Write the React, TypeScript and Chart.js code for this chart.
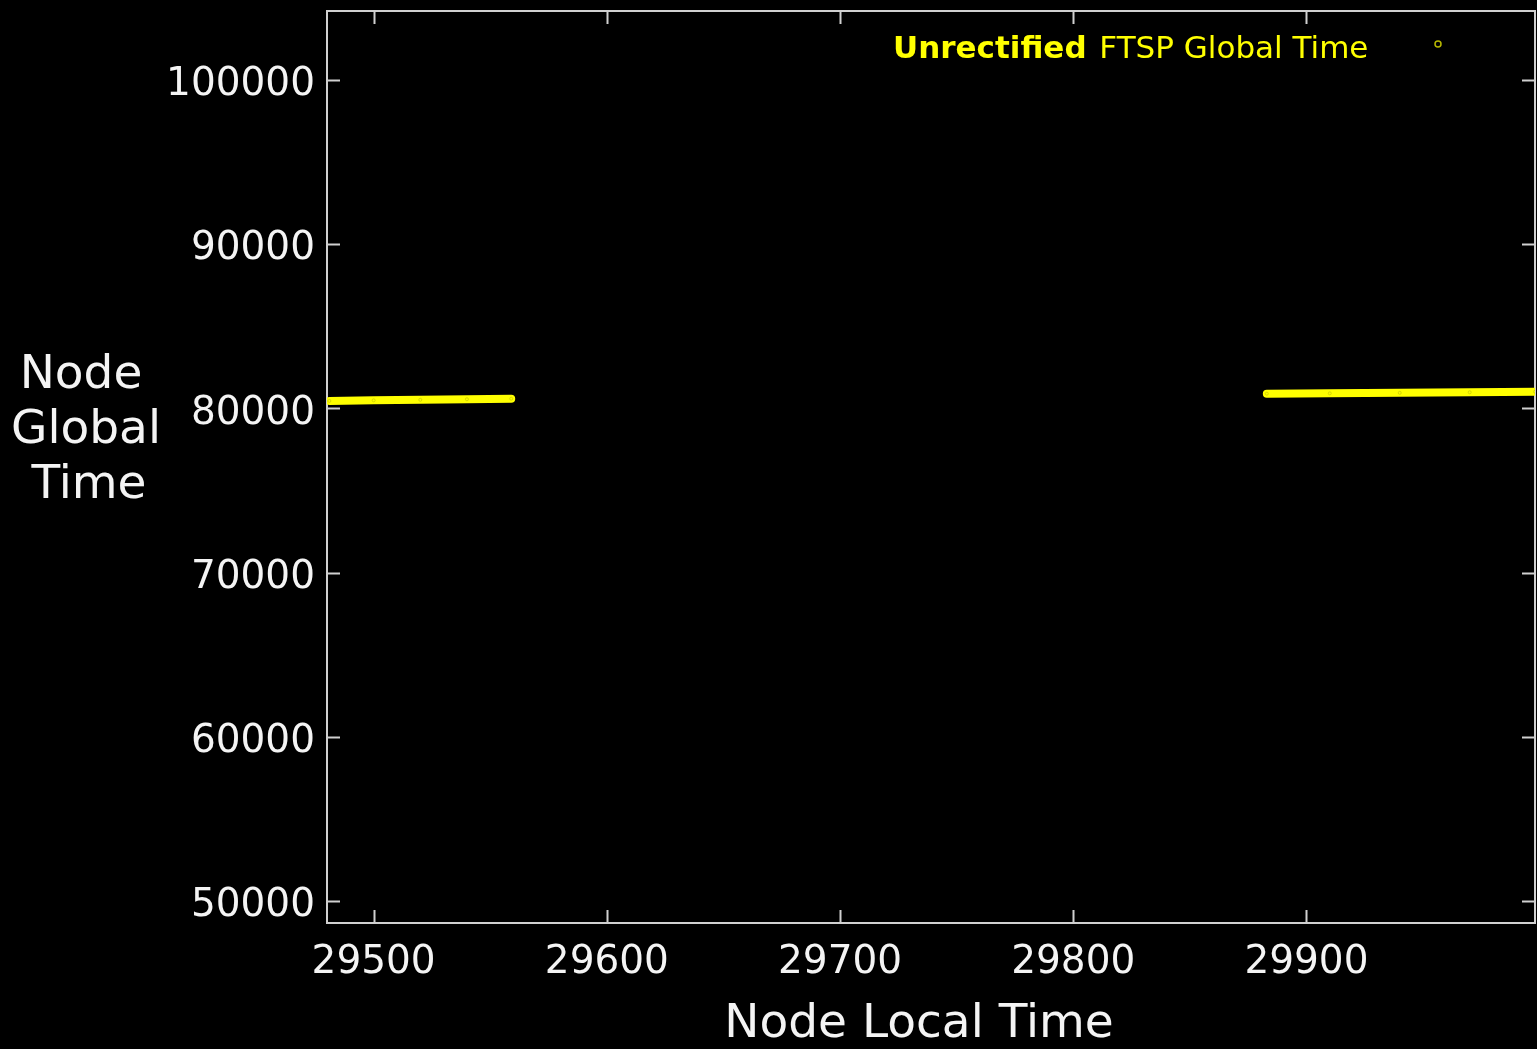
import React, { useEffect, useRef } from 'react';
import { Chart, registerables } from 'chart.js';

Chart.register(...registerables);

const xTickValues = [29500, 29600, 29700, 29800, 29900];
const yTickValues = [50000, 60000, 70000, 80000, 90000, 100000];

const firstRunLocal = [29481, 29500, 29520, 29540, 29559];
const firstRunGlobal = [80455, 80490, 80520, 80555, 80590];
const secondRunLocal = [29883, 29910, 29940, 29970, 29998];
const secondRunGlobal = [80895, 80915, 80945, 80980, 81015];

const xTitle = 'Node Local Time';
const yTitleLines = ['Node', 'Global', 'Time'];
const legendBold = 'Unrectified';
const legendRest = 'FTSP Global Time';

const FONT = "'DejaVu Sans', sans-serif";
const YELLOW = '#ffff00';
const FRAME = '#d0d0d0';

const decorPlugin = {
  id: 'decor',
  beforeDatasetsDraw(chart: any) {
    const { ctx, chartArea: a, scales } = chart;
    ctx.save();
    ctx.strokeStyle = FRAME;
    ctx.lineWidth = 2;
    ctx.strokeRect(a.left, a.top, a.right - a.left, a.bottom - a.top);
    const L = 13;
    ctx.beginPath();
    scales.x.ticks.forEach((t: any) => {
      const px = Math.round(scales.x.getPixelForValue(t.value)) + 0.5;
      ctx.moveTo(px, a.bottom);
      ctx.lineTo(px, a.bottom - L);
      ctx.moveTo(px, a.top);
      ctx.lineTo(px, a.top + L);
    });
    scales.y.ticks.forEach((t: any) => {
      const py = Math.round(scales.y.getPixelForValue(t.value)) + 0.5;
      ctx.moveTo(a.left, py);
      ctx.lineTo(a.left + L, py);
      ctx.moveTo(a.right, py);
      ctx.lineTo(a.right - L, py);
    });
    ctx.stroke();
    ctx.restore();
  },
  afterDraw(chart: any) {
    const { ctx } = chart;
    ctx.save();
    ctx.fillStyle = '#f4f4f4';
    ctx.font = `47px ${FONT}`;
    ctx.textAlign = 'center';
    ctx.textBaseline = 'alphabetic';
    ctx.fillText(xTitle, 919, 1037);
    const centers = [81, 86, 89];
    yTitleLines.forEach((line, i) => {
      ctx.fillText(line, centers[i], 388 + i * 55);
    });
    // legend
    ctx.textAlign = 'left';
    ctx.fillStyle = YELLOW;
    ctx.font = `bold 31px ${FONT}`;
    ctx.fillText(legendBold, 893, 58);
    const w = ctx.measureText(legendBold + ' ').width;
    ctx.font = `31px ${FONT}`;
    ctx.fillText(legendRest, 893 + w + 2, 58);
    ctx.beginPath();
    ctx.arc(1438, 44, 3, 0, Math.PI * 2);
    ctx.strokeStyle = '#b8b800';
    ctx.lineWidth = 1.5;
    ctx.stroke();
    ctx.restore();
  },
};

export default function App() {
  const ref = useRef<HTMLCanvasElement>(null);
  useEffect(() => {
    if (!ref.current) return;
    const points: any[] = [];
    firstRunLocal.forEach((x, i) => points.push({ x, y: firstRunGlobal[i] }));
    points.push({ x: 29720, y: null });
    secondRunLocal.forEach((x, i) => points.push({ x, y: secondRunGlobal[i] }));
    const chart = new Chart(ref.current, {
      type: 'line',
      data: {
        datasets: [
          {
            label: `${legendBold} ${legendRest}`,
            data: points,
            borderColor: YELLOW,
            borderWidth: 8,
            borderCapStyle: 'round',
            pointRadius: 1.5,
            pointBorderWidth: 1,
            pointBorderColor: '#d8d800',
            pointBackgroundColor: YELLOW,
            spanGaps: false,
            tension: 0,
          },
        ],
      },
      options: {
        responsive: false,
        animation: false,
        devicePixelRatio: 1,
        layout: { autoPadding: false, padding: { top: 11, right: 2, left: 0, bottom: 0 } },
        plugins: { legend: { display: false }, tooltip: { enabled: false }, title: { display: false } },
        scales: {
          x: {
            type: 'linear',
            min: 29480,
            max: 29998,
            grid: { display: false, drawTicks: false },
            border: { display: false },
            afterFit: (s: any) => {
              s.height = 126;
              s.paddingLeft = 0;
              s.paddingRight = 0;
            },
            afterBuildTicks: (s: any) => { s.ticks = xTickValues.map((v) => ({ value: v })); },
            ticks: {
              color: '#f4f4f4',
              font: { family: FONT, size: 39 },
              padding: 16,
              maxRotation: 0,
              callback: (v: any) => String(v),
            },
          },
          y: {
            type: 'linear',
            min: 48660,
            max: 104200,
            grid: { display: false, drawTicks: false },
            border: { display: false },
            afterFit: (s: any) => {
              s.width = 327;
              s.paddingTop = 0;
              s.paddingBottom = 0;
            },
            afterBuildTicks: (s: any) => { s.ticks = yTickValues.map((v) => ({ value: v })); },
            ticks: {
              color: '#f4f4f4',
              font: { family: FONT, size: 39 },
              padding: 12,
              labelOffset: 5,
              callback: (v: any) => String(v),
            },
          },
        },
      },
      plugins: [decorPlugin],
    });
    return () => chart.destroy();
  }, []);
  return (
    <div style={{ position: 'fixed', left: 0, top: 0, width: 1537, height: 1049, background: '#000' }}>
      <canvas ref={ref} width={1537} height={1049} style={{ display: 'block' }} />
    </div>
  );
}
